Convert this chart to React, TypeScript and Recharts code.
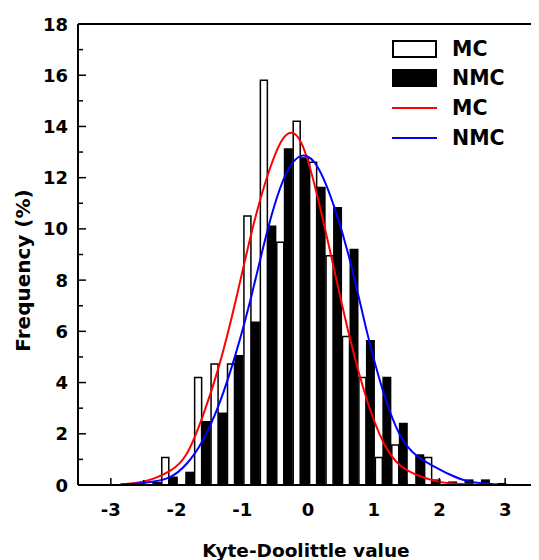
import React from 'react';
import { ComposedChart, Bar, Line, XAxis, YAxis, ReferenceLine } from 'recharts';

// bin centres (Kyte-Doolittle value), bin width 0.25
const binCenters = [
  -2.85, -2.6, -2.35, -2.1, -1.85, -1.6, -1.35, -1.1, -0.85, -0.6, -0.35, -0.1,
  0.15, 0.4, 0.65, 0.9, 1.15, 1.4, 1.65, 1.9, 2.15, 2.4, 2.65, 2.9,
];

// histogram frequencies (%)
const mcFreq = [
  0, 0, 0, 1.07, 0, 4.2, 4.72, 4.72, 10.5, 15.8, 9.48, 14.2,
  12.6, 8.95, 5.8, 4.2, 1.07, 1.56, 0, 1.07, 0, 0, 0, 0,
];
const nmcFreq = [
  0, 0, 0.12, 0.33, 0.52, 2.5, 2.83, 5.08, 6.38, 10.13, 13.15, 12.8,
  11.65, 10.85, 9.22, 5.66, 4.23, 2.43, 1.2, 0.22, 0.14, 0.22, 0.22, 0.08,
];

// fitted curves at the same x positions
const mcFit = [
  0.03, 0.09, 0.25, 0.55, 1.2, 2.7, 4.68, 7.2, 9.95, 12.2, 13.62, 13.35,
  11.2, 8.4, 5.6, 3.3, 1.65, 0.77, 0.4, 0.18, 0.07, 0.03, 0.01, null,
];
const nmcFit = [
  0.02, 0.06, 0.14, 0.31, 0.82, 1.75, 3.18, 5.12, 7.5, 10.1, 12.06, 12.85,
  12.4, 10.85, 8.65, 5.95, 3.6, 1.95, 1.15, 0.75, 0.42, 0.17, 0.07, 0.02,
];

const xTicks = [-3, -2.5, -2, -1.5, -1, -0.5, 0, 0.5, 1, 1.5, 2, 2.5, 3];
const yTicks = Array.from({ length: 19 }, (_, i) => i);

const legendItems = [
  { label: 'MC', kind: 'open' },
  { label: 'NMC', kind: 'solid' },
  { label: 'MC', kind: 'line', color: '#ff0000' },
  { label: 'NMC', kind: 'line', color: '#0000ff' },
];

const data = binCenters.map((x, i) => ({
  x,
  mc: mcFreq[i],
  nmc: nmcFreq[i],
  mcFit: mcFit[i],
  nmcFit: nmcFit[i],
}));

const FONT = '"DejaVu Sans", sans-serif';

const XTick = (props: any) => {
  const { x, y, payload } = props;
  const major = Number.isInteger(payload.value);
  return (
    <g>
      <line x1={x} x2={x} y1={y} y2={y - (major ? 7 : 5)} stroke="#000" strokeWidth={1.5} />
      {major && (
        <text x={x} y={y + 30.5} textAnchor="middle" fontFamily={FONT} fontWeight="bold" fontSize={18} fill="#000">
          {payload.value}
        </text>
      )}
    </g>
  );
};

const YTick = (props: any) => {
  const { x, y, payload } = props;
  const major = payload.value % 2 === 0;
  return (
    <g>
      <line x1={x} x2={x + (major ? 8 : 5)} y1={y} y2={y} stroke="#000" strokeWidth={1.5} />
      {major && (
        <text x={x - 10} y={y + 6.5} textAnchor="end" fontFamily={FONT} fontWeight="bold" fontSize={18} fill="#000">
          {payload.value}
        </text>
      )}
    </g>
  );
};

const XTitle = (props: any) => {
  const { viewBox } = props;
  return (
    <text x={viewBox.x + viewBox.width / 2 - 2} y={viewBox.y + 71.5} textAnchor="middle" fontFamily={FONT} fontWeight="bold" fontSize={18.5} fill="#000">
      Kyte-Doolittle value
    </text>
  );
};

const YTitle = (props: any) => {
  const { viewBox } = props;
  const cx = viewBox.x + 15;
  const cy = viewBox.y + viewBox.height / 2 + 16;
  return (
    <text x={cx} y={cy} transform={`rotate(-90, ${cx}, ${cy})`} textAnchor="middle" dominantBaseline="central" fontFamily={FONT} fontWeight="bold" fontSize={20} fill="#000">
      Frequency (%)
    </text>
  );
};

function LegendBox() {
  return (
    <div style={{ position: 'absolute', left: 384, top: 26, fontFamily: FONT, fontWeight: 'bold', fontSize: 20.5 }}>
      {legendItems.map((item, i) => (
        <div key={i} style={{ display: 'flex', alignItems: 'center', height: 29.6 }}>
          {item.kind === 'line' ? (
            <div style={{ width: 45, height: 2, background: item.color }} />
          ) : (
            <div
              style={{
                width: 45,
                height: 18,
                boxSizing: 'border-box',
                border: '2px solid #000',
                background: item.kind === 'solid' ? '#000' : '#fff',
              }}
            />
          )}
          <span style={{ marginLeft: 15 }}>{item.label}</span>
        </div>
      ))}
    </div>
  );
}

export default function App() {
  return (
    <div style={{ position: 'relative', width: 531, height: 552 }}>
      <ComposedChart width={531} height={552} data={data} margin={{ top: 16, right: 1, left: 0, bottom: 0 }} barGap={0}>
        <XAxis
          dataKey="x"
          type="number"
          domain={[-3.5, 3.5]}
          ticks={xTicks}
          interval={0}
          height={75}
          tickSize={0}
          tickMargin={0}
          tickLine={false}
          tick={<XTick />}
          axisLine={{ stroke: '#000', strokeWidth: 2 }}
          label={{ content: <XTitle /> }}
        />
        <YAxis
          type="number"
          domain={[0, 18]}
          ticks={yTicks}
          interval={0}
          width={70}
          tickSize={0}
          tickMargin={0}
          tickLine={false}
          tick={<YTick />}
          axisLine={{ stroke: '#000', strokeWidth: 2 }}
          label={{ content: <YTitle /> }}
        />
        <ReferenceLine y={18} stroke="#000" strokeWidth={2} />
        <ReferenceLine x={3.5} stroke="#000" strokeWidth={2} />
        <Bar dataKey="mc" name="MC" barSize={7} fill="#fff" stroke="#000" strokeWidth={1.5} isAnimationActive={false} />
        <Bar dataKey="nmc" name="NMC" barSize={9} fill="#000" isAnimationActive={false} />
        <Line dataKey="mcFit" name="MC" type="natural" stroke="#ff0000" strokeWidth={2} dot={false} isAnimationActive={false} />
        <Line dataKey="nmcFit" name="NMC" type="natural" stroke="#0000ff" strokeWidth={2} dot={false} isAnimationActive={false} />
      </ComposedChart>
      <LegendBox />
    </div>
  );
}
